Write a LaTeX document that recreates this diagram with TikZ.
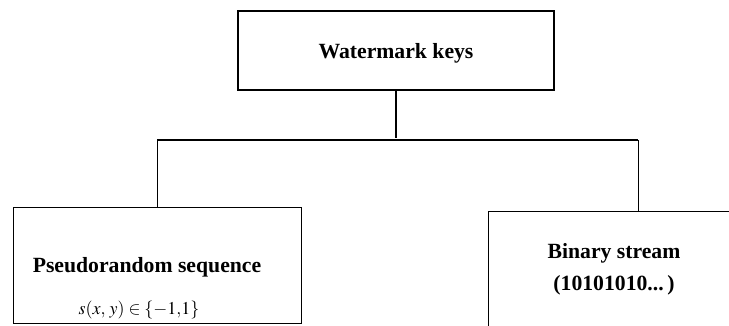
\documentclass[tikz,border=0pt]{standalone}
\usepackage{mathptmx}
\usepackage[no-math]{fontspec}
\setmainfont{Liberation Serif}
\begin{document}
\begin{tikzpicture}[x=1bp,y=-1bp,
  keybox/.style={draw, line width=2.6bp, minimum width=316bp, minimum height=79bp, inner sep=0pt},
  leafbox/.style={draw, line width=0.9bp, inner sep=0pt},
  label/.style={font=\fontsize{21.7bp}{24bp}\selectfont\bfseries, inner sep=0pt, anchor=base},
  thick link/.style={line width=2.6bp},
  thin link/.style={line width=0.9bp}]
\useasboundingbox (0,0) rectangle (729,325);
% root
\node[keybox] (wk) at (396,50.5) {};
\node[label] (wkt) at (396,58) {Watermark keys};
% leaves
\node[leafbox, minimum width=288bp, minimum height=116bp] (ps) at (157,265) {};
\node[label] (pst) at (147,272) {Pseudorandom sequence};
\node[inner sep=0pt, anchor=base, font=\fontsize{18bp}{22bp}\selectfont] (psm) at (139,314) {$s(x,\,y)\in\{-1{,}1\}$};
\node[leafbox, minimum width=300bp, minimum height=140bp] (bs) at (638,281) {};
\node[label] (bst) at (614,258) {Binary stream};
\node[label] (bsv) at (614,290) {(10101010...\,)};
% tree connectors
\coordinate (j) at (396,140);
\coordinate (jl) at (157,140);
\coordinate (jr) at (638,140);
\draw[line width=2bp] (wk.south) -- ([yshift=2bp]j);
\draw[thick link] (jl) -- (jr);
\draw[thin link] (jl) -- (ps.north);
\draw[thin link] (jr) -- (bs.north);
\end{tikzpicture}
\end{document}
